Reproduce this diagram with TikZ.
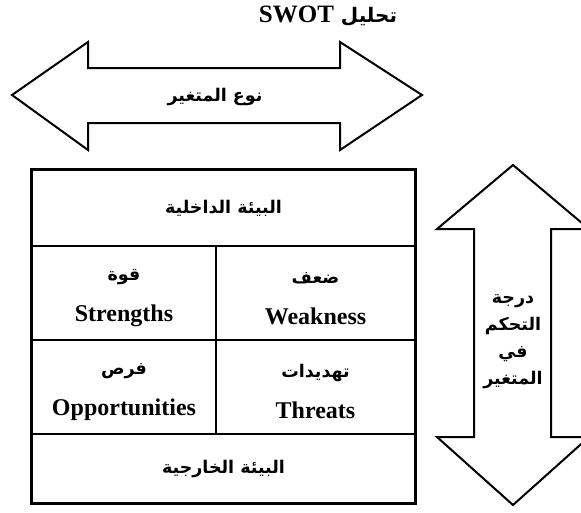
\documentclass[tikz,border=0pt]{standalone}
\usepackage{fontspec}
\setmainfont{Liberation Serif}
\newfontfamily\arabicfont[Script=Arabic]{DejaVu Sans}
\TeXXeTstate=1
\usetikzlibrary{positioning}

\newcommand{\artxt}[1]{{\arabicfont\bfseries\fontsize{17.5}{26}\selectfont\beginR #1\endR}}
\newcommand{\entxt}[1]{{\bfseries\fontsize{24}{28}\selectfont #1}}

\begin{document}
\begin{tikzpicture}[
        x=1pt, y=-1pt,
        cell/.style={draw, line width=1.2pt, inner sep=0pt, align=center, font=\fontsize{24}{28}\selectfont},
        bigarrow/.style={draw, line width=2pt, line join=miter}
    ]
        \useasboundingbox (0,0) rectangle (581,512);
        \clip (0,0) rectangle (581,512);

        % title
        \node (title) at (328,16) {{\arabicfont\bfseries\fontsize{20}{24}\selectfont\beginR تحليل \beginL{\rmfamily\fontsize{25}{28}\selectfont SWOT}\endL\endR}};

        % horizontal arrow
        \draw[bigarrow] (12,95) -- (88,42) -- (88,68) -- (340,68) -- (340,42) -- (422,95)
            -- (340,150) -- (340,123) -- (88,123) -- (88,150) -- cycle;
        \node (kind) at (215,97) {\artxt{نوع المتغير}};

        % table
        \node[cell, minimum width=383, minimum height=76] (internal) at (223.5,208) {\artxt{البيئة الداخلية}};
        \node[cell, minimum width=184, minimum height=94] (strengths) at (124,293) {\rule{0pt}{22pt}\artxt{قوة}\\[13pt]\entxt{Strengths}};
        \node[cell, minimum width=199, minimum height=94] (weakness) at (315.5,293) {\rule{0pt}{22pt}\artxt{ضعف}\\[13pt]\entxt{Weakness}};
        \node[cell, minimum width=184, minimum height=94] (opportunities) at (124,387) {\rule{0pt}{22pt}\artxt{فرص}\\[13pt]\entxt{Opportunities}};
        \node[cell, minimum width=199, minimum height=94] (threats) at (315.5,387) {\rule{0pt}{22pt}\artxt{تهديدات}\\[13pt]\entxt{Threats}};
        \node[cell, minimum width=383, minimum height=69] (external) at (223.5,468.5) {\artxt{البيئة الخارجية}};
        \draw[line width=2.6pt] (internal.north west) rectangle (external.south east);

        % vertical arrow
        \draw[bigarrow] (513,165) -- (589,229) -- (551,229) -- (551,437) -- (589,437) -- (513,505)
            -- (437,437) -- (474,437) -- (474,229) -- (437,229) -- cycle;
        \node[align=center, font=\fontsize{17.5}{27}\selectfont] (control) at (513,342) {\artxt{درجة}\\\artxt{التحكم}\\\artxt{في}\\\artxt{المتغير}};
    \end{tikzpicture}
\end{document}
